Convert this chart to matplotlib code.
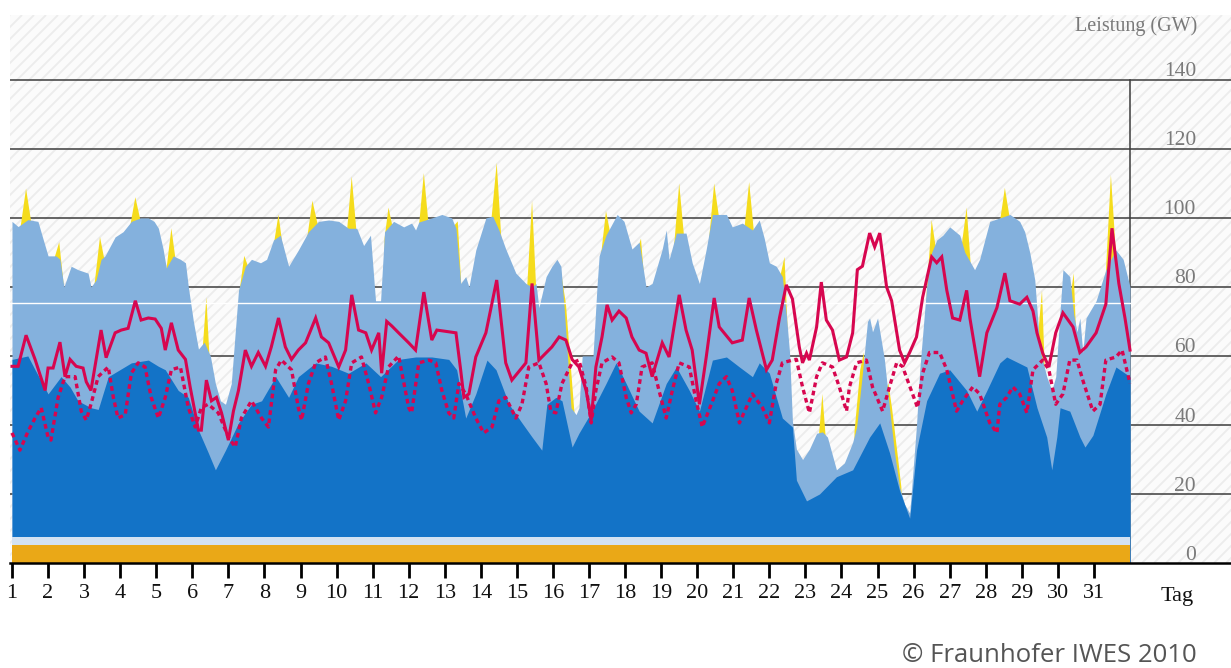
import numpy as np
import matplotlib
matplotlib.use("Agg")
import matplotlib.pyplot as plt
from matplotlib.collections import LineCollection

# ---- data (days, GW) ----
light_day = [1.00, 1.17, 1.44, 1.72, 1.83, 2.00, 2.22, 2.33, 2.44, 2.64, 2.83, 3.11, 3.19, 3.33, 3.47,
             3.58, 3.86, 4.08, 4.31, 4.56, 4.78, 4.94, 5.06, 5.19, 5.28, 5.47, 5.67, 5.81, 5.89, 6.03,
             6.17, 6.33, 6.50, 6.64, 6.78, 6.92, 7.08, 7.28, 7.47, 7.64, 7.89, 8.06, 8.25, 8.44, 8.67,
             8.94, 9.22, 9.50, 9.78, 10.06, 10.33, 10.56, 10.75, 10.94, 11.08, 11.22, 11.33, 11.58,
             11.86, 12.08, 12.19, 12.28, 12.64, 12.92, 13.19, 13.31, 13.44, 13.58, 13.67, 13.86, 14.14,
             14.33, 14.50, 14.69, 14.97, 15.25, 15.42, 15.53, 15.61, 15.81, 15.97, 16.11, 16.22, 16.31,
             16.50, 16.64, 16.72, 16.81, 17.11, 17.22, 17.28, 17.47, 17.78, 17.97, 18.19, 18.39, 18.58,
             18.75, 19.03, 19.14, 19.22, 19.42, 19.69, 19.86, 20.06, 20.25, 20.42, 20.81, 20.97, 21.25,
             21.53, 21.72, 21.86, 22.00, 22.19, 22.36, 22.47, 22.56, 22.64, 22.75, 22.92, 23.11, 23.31,
             23.47, 23.61, 23.86, 24.08, 24.31, 24.42, 24.58, 24.72, 24.78, 24.86, 25.00, 25.19, 25.33,
             25.47, 25.61, 25.75, 25.89, 25.97, 26.08, 26.17, 26.36, 26.50, 26.64, 26.81, 27.00, 27.28,
             27.42, 27.69, 27.83, 28.11, 28.39, 28.67, 28.94, 29.08, 29.22, 29.36, 29.50, 29.69, 29.83,
             29.94, 30.06, 30.14, 30.33, 30.44, 30.53, 30.61, 30.69, 30.78, 31.06, 31.33, 31.47, 31.61,
             31.81, 32.00]
light_gw = [99, 97.5, 99.5, 99, 95, 89, 89, 88, 80, 86, 85, 84, 80, 82, 88,
            89, 94.5, 96, 99, 100, 100, 99, 97, 91, 85.5, 89, 88, 87, 80, 70,
            62, 64, 60, 52, 47, 46, 52, 79, 86, 88, 87, 88, 93.6, 95, 86,
            90.7, 96, 99, 99.4, 99, 97, 97, 92, 95, 76, 76, 96, 99,
            97.4, 98.5, 96.5, 98.8, 100, 101, 100, 97, 81, 83, 80, 90.7, 100,
            100.5, 96.5, 91, 84, 81, 80, 81, 74, 83, 86, 88, 86, 74,
            45, 43, 45, 60, 60, 80, 89, 95, 101, 99, 91, 93, 80,
            81, 91, 96.5, 88, 95.6, 95.6, 87, 81, 91, 101, 101, 97.4, 98.5,
            96.5, 99.4, 94, 87, 86, 83, 72, 61, 41, 33, 30, 33, 37.6,
            38, 36.5, 27, 29, 35, 39.4, 55, 70, 71, 67, 71, 59, 45,
            32, 22, 17, 14.5, 25, 40, 56, 80, 90, 93.6, 95, 97.4, 95,
            90, 85, 88, 99, 100, 101, 99, 96, 90, 82, 62, 54, 50,
            54, 73, 85, 83, 72, 67, 71, 61, 71, 76, 85, 88, 90.7,
            88, 80]

dark_day = [1.00, 1.44, 1.64, 2.00, 2.36, 2.61, 2.83, 3.19, 3.39, 3.67, 4.31, 4.78, 5.06, 5.25, 5.61,
            5.89, 6.17, 6.44, 6.64, 6.92, 7.28, 7.64, 7.92, 8.31, 8.67, 8.94, 9.42, 9.86, 10.33, 10.81,
            11.22, 11.72, 12.19, 12.64, 13.11, 13.33, 13.58, 13.86, 14.17, 14.42, 14.78, 15.14, 15.42,
            15.69, 15.83, 16.08, 16.25, 16.53, 16.72, 17.08, 17.47, 17.75, 18.03, 18.39, 18.75, 19.14,
            19.42, 19.78, 20.06, 20.42, 20.81, 21.17, 21.53, 21.72, 22.00, 22.36, 22.64, 22.75, 23.03,
            23.39, 23.86, 24.31, 24.78, 25.06, 25.33, 25.61, 25.89, 26.08, 26.36, 26.72, 27.00, 27.47,
            27.75, 28.03, 28.39, 28.58, 29.14, 29.42, 29.69, 29.83, 29.97, 30.06, 30.33, 30.61, 30.75,
            30.97, 31.33, 31.61, 32.00]
dark_gw = [59, 60, 56, 49, 54, 51, 47, 45, 44.5, 54, 58, 58.8, 57, 56, 50,
           48, 38.5, 32, 27, 32.7, 40.6, 46, 47, 54, 48, 54, 58, 57, 55, 58,
           54, 59, 59.7, 59.7, 59, 56, 42, 49, 58.8, 56, 46, 40.6, 36.5,
           32.7, 46, 48, 47, 33.6, 37.6, 44, 52, 58, 52, 44, 40.6, 52,
           56.8, 50, 44, 58.8, 59.7, 56.8, 54, 58, 55, 42, 39.4, 24, 18,
           20, 25, 27, 36.5, 40.6, 32, 21, 13, 32.7, 47, 55, 56, 50,
           44, 50, 58, 59.7, 56.8, 45, 36.5, 27, 36.5, 45, 44, 36.5, 33.6,
           37, 49, 56.8, 54]

# yellow peaks, NaN separates the single spikes
solar_day = [1.22, 1.39, 1.56, np.nan, 2.14, 2.31, 2.45, np.nan, 3.27, 3.44, 3.58, np.nan,
             4.25, 4.42, 4.59, np.nan, 5.27, 5.42, 5.56, np.nan, 6.28, 6.39, 6.48, np.nan,
             7.30, 7.44, 7.58, np.nan, 8.24, 8.39, 8.54, np.nan, 9.17, 9.33, 9.50, np.nan,
             10.28, 10.42, 10.56, np.nan, 11.33, 11.44, 11.56, np.nan, 12.28, 12.42, 12.56, np.nan,
             13.28, 13.36, 13.47, 13.50, np.nan, 14.28, 14.44, 14.58, np.nan, 15.28, 15.42, 15.55, np.nan,
             16.20, 16.36, 16.60, 16.62, np.nan, 17.32, 17.47, 17.60, np.nan, 18.32, 18.44, 18.54, np.nan,
             19.36, 19.50, 19.64, np.nan, 20.33, 20.47, 20.62, np.nan, 21.30, 21.44, 21.58, np.nan,
             22.28, 22.42, 22.54, np.nan, 23.36, 23.47, 23.58, np.nan,
             24.36, 24.52, 24.62, 24.66, np.nan, 25.22, 25.30, 25.40, 25.55, 25.66, 25.70, np.nan,
             26.36, 26.50, 26.62, np.nan, 27.32, 27.47, 27.60, np.nan, 28.38, 28.53, 28.68, np.nan,
             29.45, 29.56, 29.64, np.nan, 30.36, 30.44, 30.52, np.nan, 31.32, 31.47, 31.62]
solar_gw = [96, 108.5, 97, np.nan, 87, 93, 79, np.nan, 79, 94.5, 87, np.nan,
            96, 106, 98, np.nan, 84, 97, 86, np.nan, 61, 77, 59, np.nan,
            78, 89, 85, np.nan, 91, 101, 89, np.nan, 93, 105, 97, np.nan,
            95, 112, 95, np.nan, 94, 103, 97, np.nan, 97, 113, 97, np.nan,
            98, 99, 78, 60, np.nan, 98, 116, 92, np.nan, 79, 105, 76, np.nan,
            86, 75, 43, 20, np.nan, 88, 102, 95, np.nan, 90, 94, 81, np.nan,
            92, 110, 94, np.nan, 94, 110, 99, np.nan, 96, 110.4, 95, np.nan,
            82, 88.7, 60, np.nan, 35, 49, 34, np.nan,
            38, 56, 61, 50, np.nan, 50, 52, 45, 32, 22, 10, np.nan,
            78, 99.4, 91, np.nan, 91, 103, 84, np.nan, 98, 108.7, 99, np.nan,
            66, 79, 55, np.nan, 78, 84, 62, np.nan, 82, 112.5, 88]

load_day = [1.00, 1.17, 1.39, 1.64, 1.92, 2.00, 2.14, 2.33, 2.47, 2.61, 2.78, 2.97, 3.06, 3.19, 3.39,
            3.47, 3.61, 3.86, 4.03, 4.22, 4.42, 4.58, 4.78, 4.97, 5.14, 5.25, 5.42, 5.61, 5.81, 5.94,
            6.17, 6.25, 6.39, 6.53, 6.67, 6.81, 7.00, 7.14, 7.28, 7.47, 7.64, 7.83, 8.03, 8.19, 8.39,
            8.58, 8.75, 8.94, 9.14, 9.42, 9.58, 9.78, 10.06, 10.25, 10.42, 10.61, 10.81, 10.97, 11.17,
            11.25, 11.39, 11.53, 11.72, 12.00, 12.19, 12.42, 12.64, 12.78, 13.31, 13.44, 13.53, 13.67,
            13.86, 14.14, 14.44, 14.69, 14.86, 15.25, 15.42, 15.61, 15.97, 16.17, 16.36, 16.53, 16.72,
            16.92, 17.06, 17.19, 17.36, 17.50, 17.64, 17.83, 18.03, 18.19, 18.39, 18.58, 18.75, 19.03,
            19.22, 19.50, 19.69, 19.86, 20.06, 20.25, 20.47, 20.61, 20.97, 21.25, 21.44, 21.64, 21.92,
            22.08, 22.28, 22.47, 22.64, 22.83, 22.92, 23.03, 23.11, 23.31, 23.44, 23.58, 23.75, 23.94,
            24.14, 24.31, 24.44, 24.58, 24.78, 24.92, 25.06, 25.25, 25.39, 25.61, 25.75, 25.89, 26.08,
            26.25, 26.50, 26.64, 26.78, 26.92, 27.08, 27.28, 27.47, 27.56, 27.83, 28.03, 28.31, 28.53,
            28.67, 28.94, 29.14, 29.31, 29.42, 29.58, 29.75, 29.94, 30.14, 30.42, 30.61, 30.78, 31.06,
            31.33, 31.50, 31.69, 31.86, 32.00]
load_gw = [57, 57, 66, 59, 50, 56.5, 56.5, 64, 54, 59, 57, 56.5, 52.5, 50, 62.6,
           67.5, 59.5, 66.7, 67.5, 68, 76, 70.4, 71, 70.7, 68, 61.7, 69.6, 61.7, 59, 51,
           38.5, 38.5, 53, 47, 48, 43.5, 35.6, 44, 50, 61.7, 57, 61, 57, 62.6, 71,
           62.6, 59, 61.7, 63.8, 71, 65.5, 63.8, 56.8, 61.7, 77.7, 67.5, 66.7, 61.7, 66.7,
           55, 70, 68.7, 66.7, 63.8, 61.7, 78.5, 64.6, 67.5, 66.7, 56, 48, 49,
           59.7, 66.7, 82, 58, 53, 58, 81, 58.8, 62.6, 65.5, 64.6, 59, 56.8,
           50, 41.4, 56.8, 65.5, 74.8, 70.4, 73, 71, 65.5, 61.7, 60.8, 54, 63.8,
           59.7, 77.7, 67.5, 61.7, 46, 59.7, 76.8, 68.4, 63.8, 64.6, 76.8, 67.5, 56,
           58.8, 71, 80.6, 76.5, 62.6, 58, 60.8, 58.8, 68.4, 81.4, 70.4, 67.5, 58.8,
           59.7, 66.7, 85, 86, 95.6, 91.6, 95.6, 80, 76, 61.7, 58, 61, 65.5,
           77, 88.7, 87, 88.7, 79, 71, 70.4, 79, 71, 54, 66.7, 74, 84,
           76, 75, 77, 73, 66.7, 60.8, 56.8, 66.7, 72.5, 68.4, 61, 62.6, 66.7,
           75, 97, 81, 71, 61.7]

low_day = [1.00, 1.22, 1.44, 1.64, 1.81, 2.00, 2.08, 2.28, 2.47, 2.75, 2.92, 3.06, 3.19, 3.39, 3.67,
           3.81, 3.94, 4.14, 4.31, 4.50, 4.69, 4.86, 5.06, 5.25, 5.42, 5.67, 5.89, 6.08, 6.25, 6.44,
           6.72, 7.00, 7.19, 7.36, 7.64, 7.92, 8.11, 8.31, 8.47, 8.75, 8.94, 9.03, 9.22, 9.42, 9.69,
           9.86, 10.06, 10.25, 10.42, 10.69, 10.89, 11.08, 11.25, 11.44, 11.72, 12.00, 12.08, 12.28,
           12.56, 12.75, 12.92, 13.11, 13.25, 13.39, 13.58, 13.86, 14.08, 14.31, 14.50, 14.69, 14.97,
           15.14, 15.33, 15.61, 15.81, 15.94, 16.08, 16.25, 16.53, 16.72, 16.92, 17.06, 17.19, 17.36,
           17.64, 17.83, 18.03, 18.17, 18.31, 18.47, 18.75, 18.94, 19.14, 19.31, 19.50, 19.78, 19.97,
           20.14, 20.39, 20.61, 20.81, 20.97, 21.17, 21.36, 21.53, 21.81, 22.00, 22.19, 22.36, 22.64,
           22.75, 22.92, 23.11, 23.31, 23.47, 23.75, 23.94, 24.14, 24.22, 24.42, 24.69, 24.86, 25.14,
           25.33, 25.53, 25.69, 25.97, 26.11, 26.25, 26.44, 26.72, 26.92, 27.19, 27.36, 27.64, 27.83,
           28.11, 28.31, 28.39, 28.58, 28.75, 28.94, 29.14, 29.31, 29.58, 29.75, 29.94, 30.14, 30.33,
           30.53, 30.69, 30.97, 31.17, 31.33, 31.61, 31.78, 32.00]
low_gw = [37.7, 32.7, 38, 42, 45, 36.5, 35.6, 48, 54, 54, 44, 41.4, 46, 54, 56.8,
          48, 42, 43, 55, 58, 56.8, 48, 42, 48, 56, 56.8, 45, 39.4, 45, 46,
          43.5, 36.5, 33.6, 42, 47, 42, 39.4, 56, 58.8, 56, 45, 41.4, 52, 58, 59.7,
          52, 41.4, 47, 58, 59.7, 52, 43.5, 48, 56.8, 60, 45, 43.5, 58,
          58.8, 58, 50, 43.5, 42, 52, 49, 42, 37.7, 39.4, 47, 48, 42,
          46, 56.8, 58, 52, 44, 43.5, 52, 58, 58.8, 51, 40.6, 50, 58,
          59.7, 58, 48, 43.5, 46, 56.8, 58, 50, 42, 50, 58, 56.8, 47,
          39.4, 46, 52, 54, 50, 40.6, 45, 49, 45, 40.6, 52, 58, 58.8,
          59, 51, 43.5, 54, 58, 56.8, 51, 44, 51, 58, 58.8, 51, 44,
          51, 58, 57, 49, 45, 55, 61, 61, 56, 44, 47, 51, 49,
          40.6, 37.7, 46, 48, 51, 49, 43.5, 56, 58.8, 56, 46, 49, 58.8,
          58.8, 53, 44, 46, 58.8, 59.7, 61.7, 52]

span_day = [1.0, 32.0]
orange_gw = [5.2, 5.2]
pale_gw = [7.5, 7.5]

day_ticks = list(range(1, 32))
gw_ticks = [0, 20, 40, 60, 80, 100, 120, 140]

# ---- figure ----
W, H = 1231, 668
fig = plt.figure(figsize=(W / 100, H / 100), dpi=100)
fig.patch.set_facecolor("white")
ax = fig.add_axes([10 / W, 105 / H, 1221 / W, 548 / H])
x0, x1 = 0.945, 34.8
ax.set_xlim(x0, x1)
ax.set_ylim(0, 158.8)
ax.set_facecolor("#fbfbfb")
for s in ["top", "right", "left"]:
    ax.spines[s].set_visible(False)
ax.spines["bottom"].set_linewidth(1.8)
ax.spines["bottom"].set_color("black")
ax.spines["bottom"].set_zorder(10)

# diagonal background hatching
bw, bh = 1221.0, 548.0
segs = []
t = -bh
while t < bw:
    segs.append([(t / bw, 0), ((t + bh) / bw, 1)])
    t += 12
ax.add_collection(LineCollection(segs, colors="#ececec", linewidths=1.3,
                                 transform=ax.transAxes, zorder=0))

# grid lines (under the areas)
for v in gw_ticks[1:]:
    ax.plot([x0, x1], [v, v], color="#3c3c3c", lw=1.1, zorder=1)
ax.plot([32, 32], [0, 140], color="#3c3c3c", lw=1.1, zorder=1)

# stacked areas
ax.fill_between(solar_day, 0, solar_gw, color="#f5dc1c", lw=0, zorder=2)
ax.fill_between(light_day, 0, light_gw, color="#84b1dd", lw=0, zorder=3)
ax.fill_between(dark_day, 0, dark_gw, color="#1373c7", lw=0, zorder=4)
ax.fill_between(span_day, 0, pale_gw, color="#d3e2f2", lw=0, zorder=5)
ax.fill_between(span_day, 0, orange_gw, color="#eaa817", lw=0, zorder=6)

ax.plot([x0, 32], [75.4, 75.4], color="white", lw=1.0, zorder=7)

# load lines
ax.plot(load_day, load_gw, color="#d7064f", lw=2.2, zorder=8, solid_joinstyle="miter")
ax.plot(low_day, low_gw, color="#d7064f", lw=2.4, zorder=8, linestyle=(0, (1.4, 1.1)))

# x axis
serif = "Liberation Serif"
ax.set_xticks(day_ticks)
ax.set_xticklabels([str(d) for d in day_ticks], fontsize=16, family=serif, color="#111111")
ax.tick_params(axis="x", length=11, width=2.0, direction="out", pad=4, color="black")
ax.set_yticks([])
ax.text(33.3, -9.6, "Tag", fontsize=16, family=serif, color="#111111",
        ha="center", va="center", clip_on=False)

# y labels on the right
for v in gw_ticks:
    ax.text(33.83, v + 1.0, str(v), fontsize=15.5, family=serif, color="#7a7a7a",
            ha="right", va="baseline", zorder=9)
ax.text(33.86, 154.2, "Leistung (GW)", fontsize=14.5, family=serif, color="#7a7a7a",
        ha="right", va="baseline", zorder=9)

fig.text(1197 / W, 1 - 655 / H, "\u00a9 Fraunhofer IWES 2010", fontsize=18.5,
         family="Open Sans", color="#555555", ha="right", va="center")

fig.savefig("out.png", dpi=100)
